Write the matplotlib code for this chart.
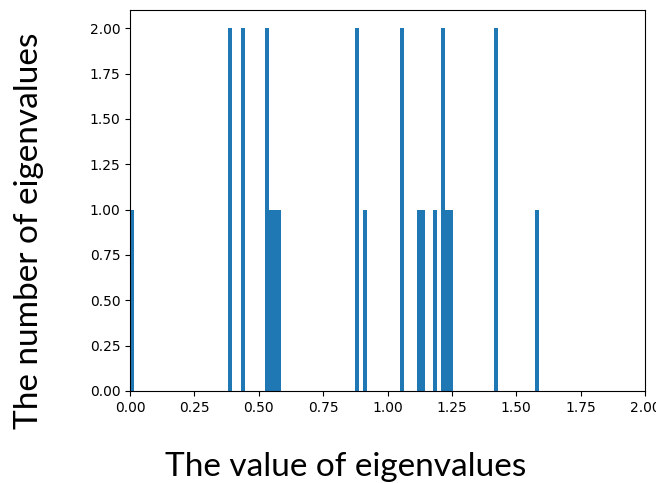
import matplotlib
matplotlib.use("Agg")
import matplotlib.pyplot as plt
import numpy as np

# Eigenvalues (bins=100 over data range)
eigenvalues = [0.0,
               0.389, 0.389,
               0.437, 0.437,
               0.532, 0.532, 0.548, 0.564, 0.580,
               0.882, 0.882,
               0.914,
               1.057, 1.057,
               1.121, 1.137,
               1.184,
               1.216, 1.216, 1.232, 1.248,
               1.423, 1.423,
               1.59]
n_bins = 100
x_ticks = [0.0, 0.25, 0.5, 0.75, 1.0, 1.25, 1.5, 1.75, 2.0]
y_ticks = [0.0, 0.25, 0.5, 0.75, 1.0, 1.25, 1.5, 1.75, 2.0]

fig = plt.figure(figsize=(6.56, 4.83), dpi=100)
ax = fig.add_axes([130 / 656, 1 - 391 / 483, 515 / 656, 381 / 483])
ax.hist(eigenvalues, bins=n_bins, color="#1f77b4")
ax.set_xlim(0, 2.0)
ax.set_ylim(0, 2.1)
ax.set_xticks(x_ticks)
ax.set_yticks(y_ticks)
ax.set_xticklabels([f"{t:.2f}" for t in x_ticks])
ax.set_yticklabels([f"{t:.2f}" for t in y_ticks])
ax.tick_params(labelsize=10)

fig.text(346 / 656, 7 / 483, "The value of eigenvalues", ha="center", va="baseline",
         fontsize=24, family="Lato")
fig.text(29 / 656, 1 - 231 / 483, "The number of eigenvalues", ha="center", va="center",
         rotation=90, fontsize=24, family="Lato")

fig.savefig("out.png", dpi=100)
